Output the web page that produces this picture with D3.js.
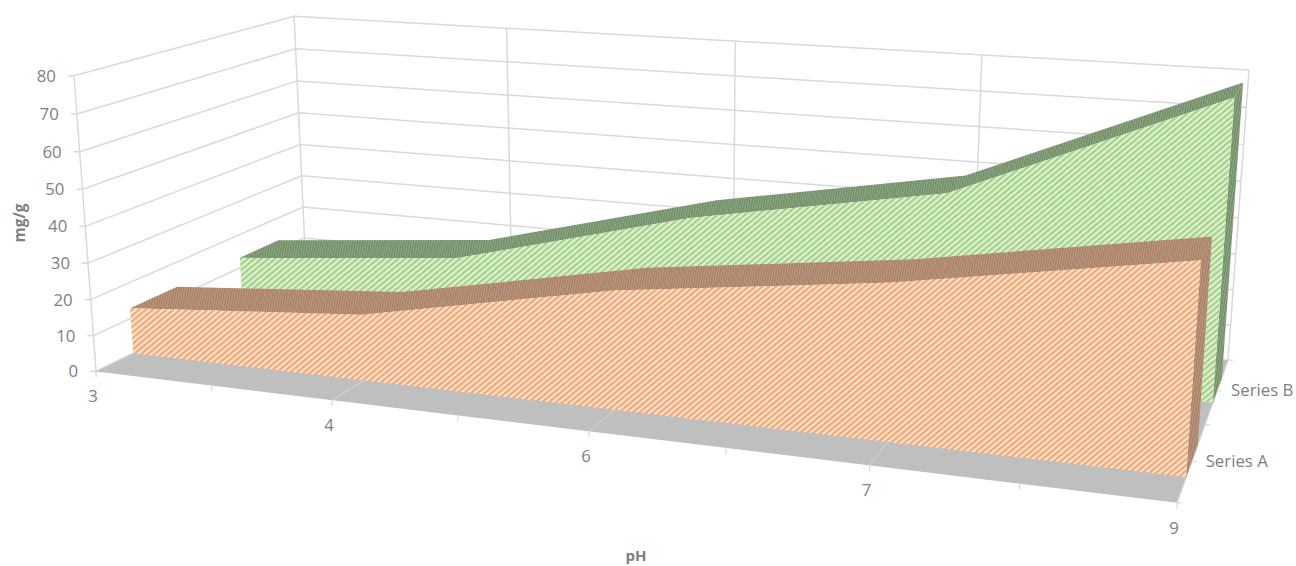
<!DOCTYPE html>
<html>
<head>
<meta charset="utf-8">
<script src="https://cdn.jsdelivr.net/npm/d3@7"></script>
<style>
  html, body { margin: 0; background: #fff; }
  text { font-family: "Open Sans", sans-serif; fill: #808080; font-size: 16.8px; }
</style>
</head>
<body>
<svg id="chart" width="1296" height="566"></svg>
<script>
const categories = ["3", "4", "6", "7", "9"];
const seriesNames = ["Series A", "Series B"];
const seriesA = [12.9, 18.1, 31.4, 40.1, 52];
const seriesB = [13, 19.2, 37, 49.5, 79.3];
const valueTicks = [0, 10, 20, 30, 40, 50, 60, 70, 80];

// calibration of the 3d view: box corner [x, value, z] -> screen pixel
const anchors = [
  [[0, 0, 0], [96, 371]],
  [[0, 0, 1], [306, 269]],
  [[1, 0, 1], [1228, 360]],
  [[1, 0, 0], [1177, 503]],
  [[0, 1, 0], [74, 76]],
  [[0, 1, 1], [294, 16]],
  [[1, 1, 1], [1249, 70]]
];

function solve(A, b) {
  const n = b.length;
  const M = A.map((r, i) => [...r, b[i]]);
  for (let i = 0; i < n; i++) {
    let p = i;
    for (let k = i + 1; k < n; k++) if (Math.abs(M[k][i]) > Math.abs(M[p][i])) p = k;
    [M[i], M[p]] = [M[p], M[i]];
    for (let k = 0; k < n; k++) {
      if (k === i) continue;
      const f = M[k][i] / M[i][i];
      for (let j = i; j <= n; j++) M[k][j] -= f * M[i][j];
    }
  }
  return M.map((r, i) => r[n] / r[i]);
}

// least squares DLT, 11 unknowns
function fitCamera() {
  const rows = [], rhs = [];
  anchors.forEach(([[x, y, z], [u, v]]) => {
    rows.push([x, y, z, 1, 0, 0, 0, 0, -u * x, -u * y, -u * z]); rhs.push(u);
    rows.push([0, 0, 0, 0, x, y, z, 1, -v * x, -v * y, -v * z]); rhs.push(v);
  });
  const AtA = d3.range(11).map(i => d3.range(11).map(j => d3.sum(rows, r => r[i] * r[j])));
  const Atb = d3.range(11).map(i => d3.sum(rows, (r, k) => r[i] * rhs[k]));
  return solve(AtA, Atb);
}
const cam = fitCamera();
function project(x, y, z) {
  const w = cam[8] * x + cam[9] * y + cam[10] * z + 1;
  return [(cam[0] * x + cam[1] * y + cam[2] * z + cam[3]) / w,
          (cam[4] * x + cam[5] * y + cam[6] * z + cam[7]) / w];
}

const xScale = d3.scalePoint().domain(categories).range([0, 1]);
const yScale = d3.scaleLinear().domain([0, 80]).range([0, 1]);
const P = (c, v, z) => project(xScale(c), yScale(v), z);
const poly = d3.line();

const svg = d3.select("#chart");
const defs = svg.append("defs");
function hatch(id, light, dark, size, width, angle) {
  const p = defs.append("pattern").attr("id", id)
    .attr("patternUnits", "userSpaceOnUse").attr("width", size).attr("height", size)
    .attr("patternTransform", `rotate(${angle})`);
  p.append("rect").attr("width", size).attr("height", size).attr("fill", light);
  p.append("rect").attr("width", width).attr("height", size).attr("fill", dark);
}
hatch("faceA", "#fde2cf", "#f1a670", 4.4, 2.1, 50);
hatch("faceB", "#dcf3ce", "#a5ce89", 4.4, 2.1, 50);
hatch("topA", "#bb9c86", "#a87a5e", 2.4, 1.2, 10);
hatch("topB", "#8fa985", "#6d8a64", 2.4, 1.2, 10);

const soft = defs.append("filter").attr("id", "soft");
soft.append("feGaussianBlur").attr("stdDeviation", 0.4);

const grid = svg.append("g").attr("fill", "none").attr("stroke", "#d9d9d9").attr("stroke-width", 1.5);
valueTicks.forEach(v => {
  const path = [project(0, yScale(v), 0), project(0, yScale(v), 1), project(1, yScale(v), 1)];
  grid.append("path").attr("d", poly(path));
});
categories.forEach(c => {
  grid.append("path").attr("d", poly([P(c, 0, 1), P(c, 80, 1)]));
});
grid.append("path").attr("d", poly([P("3", 0, 0), P("3", 80, 0)]));
valueTicks.forEach(v => {
  const a = project(0, yScale(v), 0);
  grid.append("path").attr("d", poly([[a[0] - 6, a[1]], a]));
});

// floor
svg.append("path").attr("fill", "#bfbfbf")
  .attr("d", poly([P("3", 0, 0), P("9", 0, 0), P("9", 0, 1), P("3", 0, 1)]) + "Z");
const floorGrid = svg.append("g").attr("fill", "none").attr("stroke", "#d0d0d0").attr("stroke-width", 1.2);
categories.forEach(c => floorGrid.append("path").attr("d", poly([P(c, 0, 0), P(c, 0, 1)])));

// ribbons, back one first
const ribbons = [
  { values: seriesB, z0: 0.66, z1: 0.86, face: "faceB", top: "topB" },
  { values: seriesA, z0: 0.154, z1: 0.36, face: "faceA", top: "topA" }
];
const marks = svg.append("g").attr("filter", "url(#soft)");
ribbons.forEach(r => {
  const last = categories[categories.length - 1];
  const lastV = r.values[r.values.length - 1];
  marks.append("path").attr("fill", `url(#${r.top})`)
    .attr("d", poly([P(last, lastV, r.z0), P(last, lastV, r.z1), P(last, 0, r.z1), P(last, 0, r.z0)]) + "Z");
  const front = categories.map((c, i) => P(c, r.values[i], r.z0));
  const back = categories.map((c, i) => P(c, r.values[i], r.z1));
  marks.append("path").attr("fill", `url(#${r.top})`)
    .attr("d", poly([...front, ...back.reverse()]) + "Z");
  marks.append("path").attr("fill", `url(#${r.face})`)
    .attr("d", poly([P("3", 0, r.z0), ...front, P(last, 0, r.z0)]) + "Z");
});

// ticks and labels
const axisTicks = svg.append("g").attr("fill", "none").attr("stroke", "#d9d9d9").attr("stroke-width", 1.2);
d3.range(9).forEach(i => {
  const a = project(i / 8, 0, 0);
  axisTicks.append("path").attr("d", poly([a, [a[0], a[1] + 6]]));
});
[0, 0.25, 0.5, 0.75, 1].forEach(z => {
  const a = project(1, 0, z);
  axisTicks.append("path").attr("d", poly([a, [a[0] + 5, a[1]]]));
});

valueTicks.forEach(v => {
  const a = project(0, yScale(v), 0);
  svg.append("text").attr("x", a[0] - 18).attr("y", a[1] + 6).attr("text-anchor", "end").text(v);
});
categories.forEach(c => {
  const a = P(c, 0, 0);
  svg.append("text").attr("x", a[0] - 3).attr("y", a[1] + 31).attr("text-anchor", "middle").text(c);
});
seriesNames.forEach((s, i) => {
  const a = project(1, 0, 0.25 + i * 0.5);
  svg.append("text").attr("x", a[0] + 14).attr("y", a[1] + 5).text(s);
});
svg.append("text").attr("x", 636).attr("y", 561).attr("text-anchor", "middle")
  .attr("font-weight", "bold").style("font-size", "15px").text("pH");
svg.append("text").attr("transform", "translate(25,223) rotate(-90)").attr("text-anchor", "middle")
  .attr("font-weight", "bold").style("font-size", "15.5px").text("mg/g");
</script>
</body>
</html>
